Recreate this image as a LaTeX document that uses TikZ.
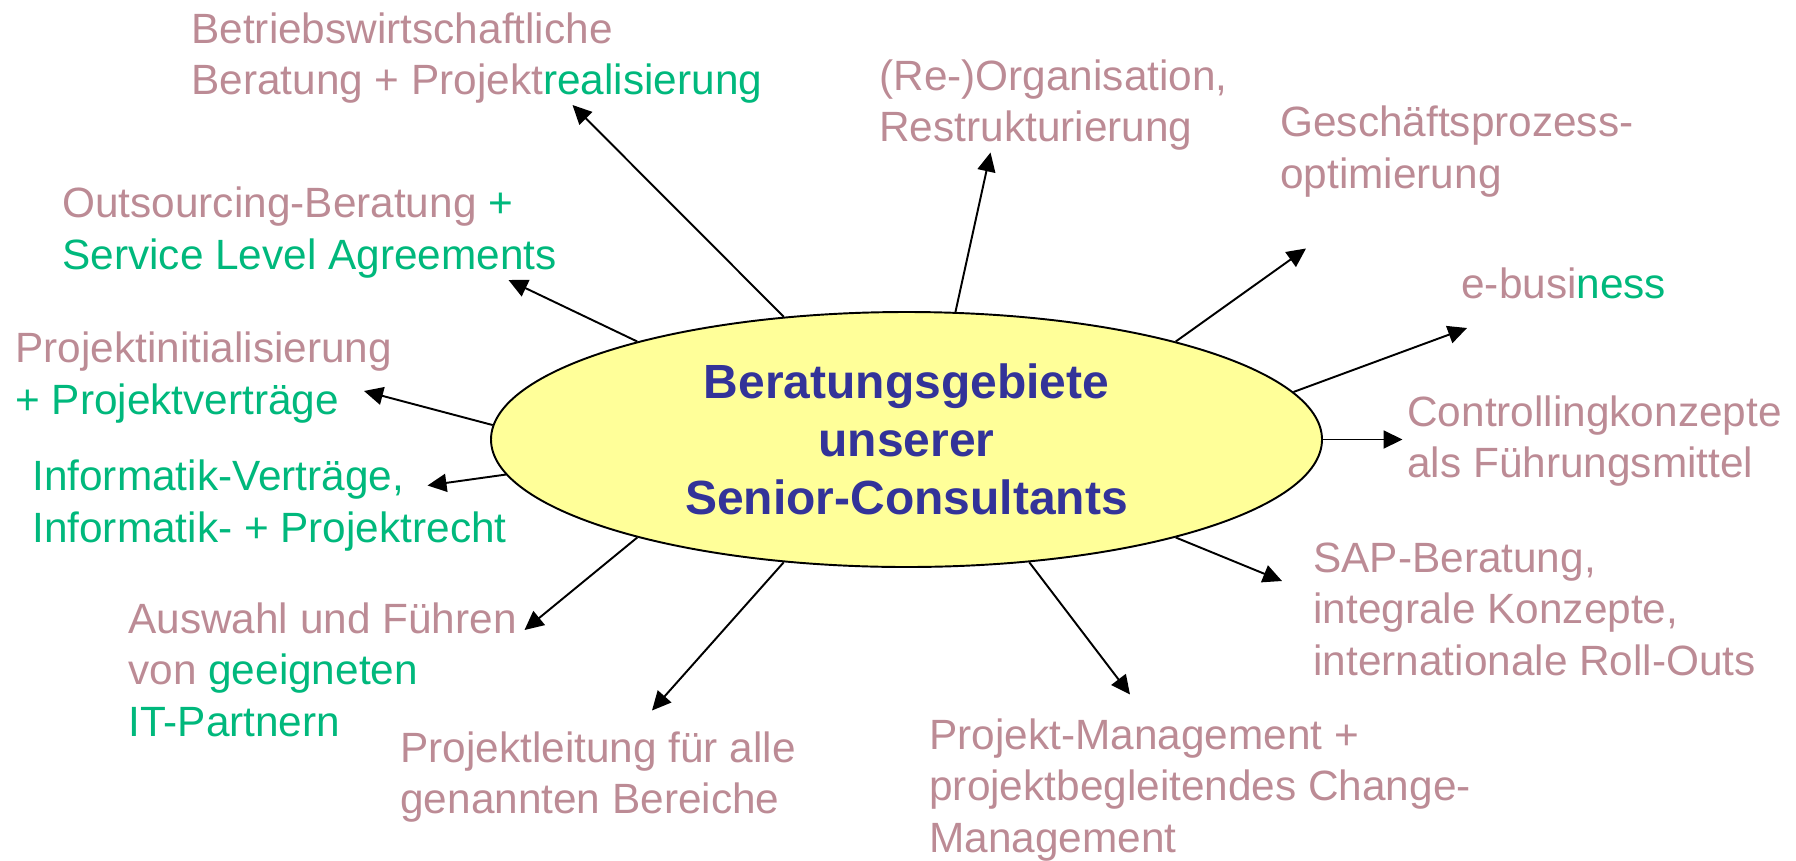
\documentclass[tikz,border=0pt]{standalone}
\usepackage{fontspec}
\setmainfont{Liberation Sans}
\usetikzlibrary{shapes.geometric, arrows.meta, positioning}
\definecolor{rosatext}{RGB}{188,139,149}
\definecolor{gruentext}{RGB}{0,184,124}
\definecolor{blautext}{RGB}{51,51,153}
\definecolor{gelbfill}{RGB}{255,255,153}
\newcommand{\gtxt}[1]{\textcolor{gruentext}{#1}}

\begin{document}
\begin{tikzpicture}[
    kern/.style={draw, ellipse, line width=1.1pt, fill=gelbfill,
                 minimum width=16.62cm, minimum height=5.10cm,
                 inner sep=0pt, align=center, text=blautext,
                 font=\fontsize{27.3}{33}\selectfont\bfseries},
    gebiet/.style={anchor=base west, inner sep=0pt, align=left,
                   text=rosatext, font=\fontsize{24.1}{29.3}\selectfont},
    arw/.style={-{Triangle[length=0.38cm,width=0.36cm]}, line width=1.1pt}
  ]
    \useasboundingbox (0,0) rectangle (35.92,-17.2);

    % Zentrum
    \node[kern] (kern) at (18.13,-8.79) {Beratungsgebiete\\unserer\\Senior-Consultants};

    % Beratungsgebiete (Position = Grundlinie der letzten Zeile)
    \node[gebiet] (bwl)    at (3.82,-1.89)  {Betriebswirtschaftliche\\Beratung + Projekt\gtxt{realisierung}};
    \node[gebiet] (reorg)  at (17.58,-2.83) {(Re-)Organisation,\\Restrukturierung};
    \node[gebiet] (gpo)    at (25.60,-3.76) {Geschäftsprozess-\\optimierung};
    \node[gebiet] (outs)   at (1.24,-5.38)  {Outsourcing-Beratung \gtxt{+}\\\gtxt{Service Level Agreements}};
    \node[gebiet] (ebiz)   at (29.22,-5.96) {e-busi\gtxt{ness}};
    \node[gebiet] (init)   at (0.30,-8.28)  {Projektinitialisierung\\\gtxt{+ Projektverträge}};
    \node[gebiet] (ctrl)   at (28.14,-9.55) {Controllingkonzepte\\als Führungsmittel};
    \node[gebiet, text=gruentext] (recht) at (0.64,-10.84) {Informatik-Verträge,\\Informatik- + Projektrecht};
    \node[gebiet] (sap)    at (26.26,-13.50) {SAP-Beratung,\\integrale Konzepte,\\internationale Roll-Outs};
    \node[gebiet] (partn)  at (2.56,-14.72) {Auswahl und Führen\\von \gtxt{geeigneten}\\\gtxt{IT-Partnern}};
    \node[gebiet] (leit)   at (8.00,-16.27) {Projektleitung für alle\\genannten Bereiche};
    \node[gebiet] (pm)     at (18.58,-17.04) {Projekt-Management +\\projektbegleitendes Change-\\Management};

    % Pfeilspitzen
    \coordinate (t-bwl)   at (11.45,-2.10);
    \coordinate (t-reorg) at (19.81,-3.05);
    \coordinate (t-gpo)   at (26.12,-4.97);
    \coordinate (t-outs)  at (10.17,-5.60);
    \coordinate (t-ebiz)  at (29.34,-6.56);
    \coordinate (t-init)  at (7.28,-7.82);
    \coordinate (t-ctrl)  at (28.05,-8.79);
    \coordinate (t-recht) at (8.55,-9.71);
    \coordinate (t-sap)   at (25.64,-11.62);
    \coordinate (t-partn) at (10.49,-12.60);
    \coordinate (t-leit)  at (13.04,-14.21);
    \coordinate (t-pm)    at (22.60,-13.89);

    % Pfeile
    \draw[arw] (kern.135)  -- (t-bwl);
    \draw[arw] (kern.69)   -- (t-reorg);
    \draw[arw] (kern.20)   -- (t-gpo);
    \draw[arw] (kern.160)  -- (t-outs);
    \draw[arw] (kern.7)    -- (t-ebiz);
    \draw[arw] (kern.178)  -- (t-init);
    \draw[arw] (kern.0)    -- (t-ctrl);
    \draw[arw] (kern.185)  -- (t-recht);
    \draw[arw] (kern.-20)  -- (t-sap);
    \draw[arw] (kern.-160) -- (t-partn);
    \draw[arw] (kern.-135) -- (t-leit);
    \draw[arw] (kern.-45)  -- (t-pm);
  \end{tikzpicture}
\end{document}
